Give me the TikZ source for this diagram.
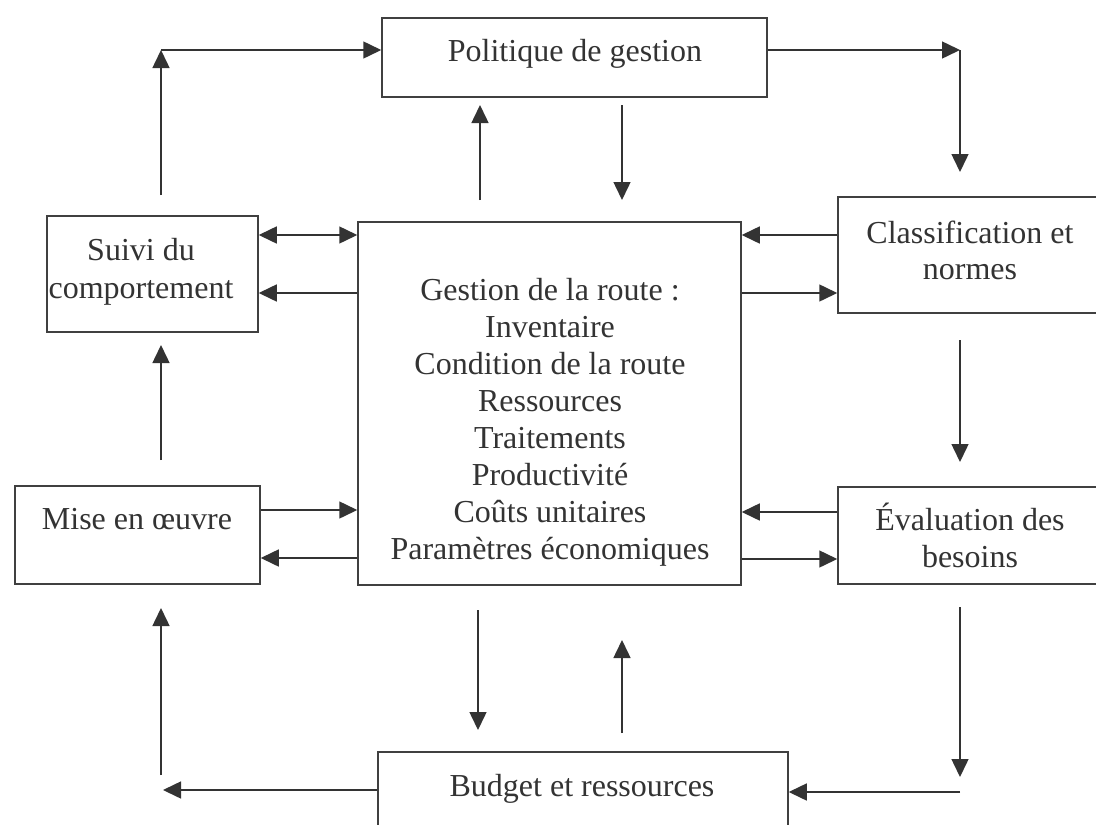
\documentclass[tikz,border=0pt]{standalone}
\usepackage{fontspec}
\setmainfont{Liberation Serif}
\usetikzlibrary{arrows.meta}
\begin{document}
\begin{tikzpicture}[x=1pt,y=-1pt,
  box/.style={draw=black!75, line width=1.5pt, inner sep=0pt, rectangle},
  txt/.style={font=\fontsize{32}{37}\selectfont, text=black!80, align=center, inner sep=0pt},
  arr/.style={draw=black!80, line width=1.5pt, -{Triangle[length=18pt,width=17pt]}},
  darr/.style={draw=black!80, line width=1.5pt, {Triangle[length=18pt,width=17pt]}-{Triangle[length=18pt,width=17pt]}}]
\fill[white] (0,0) rectangle (1096,825);
\useasboundingbox (0,0) rectangle (1096,825);

% boxes
\node[box, minimum width=385pt, minimum height=79pt] (pol) at (574.5,57.5) {};
\node[box, minimum width=211pt, minimum height=116pt] (suivi) at (152.5,274) {};
\node[box, minimum width=383pt, minimum height=363pt] (ges) at (549.5,403.5) {};
\node[box, minimum width=262pt, minimum height=116pt] (cls) at (969,255) {};
\node[box, minimum width=245pt, minimum height=98pt] (mise) at (137.5,535) {};
\node[box, minimum width=262pt, minimum height=97pt] (eval) at (969,535.5) {};
\node[box, minimum width=410pt, minimum height=90pt] (bud) at (583,797) {};

% texts
\node[txt] (polt) at (575,54) {Politique de gestion};
\node[txt, font=\fontsize{32}{38.5}\selectfont] (suivit) at (141,272) {Suivi du\\comportement};
\node[txt] (gest) at (550,422) {Gestion de la route :\\Inventaire\\Condition de la route\\Ressources\\Traitements\\Productivité\\Coûts unitaires\\Paramètres économiques};
\node[txt, font=\fontsize{32}{36}\selectfont] (clst) at (970,250) {Classification et\\normes};
\node[txt] (miset) at (137,519) {Mise en œuvre};
\node[txt] (evalt) at (970,535) {Évaluation des\\besoins};
\node[txt] (budt) at (582,789) {Budget et ressources};

% helper levels
\coordinate (ya) at (0,235);
\coordinate (yb) at (0,293);
\coordinate (yc) at (0,510);
\coordinate (yd) at (0,558);
\coordinate (ye) at (0,512);
\coordinate (yf) at (0,559);
\coordinate (ytop) at (0,50);
\coordinate (ybud1) at (0,790);
\coordinate (ybud2) at (0,792);

% free ends
\coordinate (s1) at (161,195);
\coordinate (s2) at (161,50);
\coordinate (p1) at (960,50);
\coordinate (p2) at (960,172);
\coordinate (u1) at (480,200);
\coordinate (u2) at (480,105);
\coordinate (d1) at (622,105);
\coordinate (d2) at (622,200);
\coordinate (c1) at (960,340);
\coordinate (c2) at (960,462);
\coordinate (m1) at (161,460);
\coordinate (m2) at (161,345);
\coordinate (g1) at (478,610);
\coordinate (g2) at (478,730);
\coordinate (g3) at (622,733);
\coordinate (g4) at (622,640);
\coordinate (e1) at (960,607);
\coordinate (e2) at (960,777);
\coordinate (e3) at (960,792);
\coordinate (b1) at (163,790);
\coordinate (b2) at (161,775);
\coordinate (b3) at (161,608);

% connectors
\draw[arr] (s1) -- (s2);
\draw[arr] (s2) -- (pol.west |- ytop);
\draw[arr] (pol.east |- ytop) -- (p1);
\draw[arr] (p1) -- (p2);
\draw[arr] (u1) -- (u2);
\draw[arr] (d1) -- (d2);
\draw[darr] (suivi.east |- ya) -- (ges.west |- ya);
\draw[arr] (ges.west |- yb) -- (suivi.east |- yb);
\draw[arr] (cls.west |- ya) -- (ges.east |- ya);
\draw[arr] (ges.east |- yb) -- (cls.west |- yb);
\draw[arr] (c1) -- (c2);
\draw[arr] (m1) -- (m2);
\draw[arr] (mise.east |- yc) -- (ges.west |- yc);
\draw[arr] (ges.west |- yd) -- (mise.east |- yd);
\draw[arr] (eval.west |- ye) -- (ges.east |- ye);
\draw[arr] (ges.east |- yf) -- (eval.west |- yf);
\draw[arr] (g1) -- (g2);
\draw[arr] (g3) -- (g4);
\draw[arr] (e1) -- (e2);
\draw[arr] (e3) -- (bud.east |- ybud2);
\draw[arr] (bud.west |- ybud1) -- (b1);
\draw[arr] (b2) -- (b3);
\end{tikzpicture}
\end{document}
